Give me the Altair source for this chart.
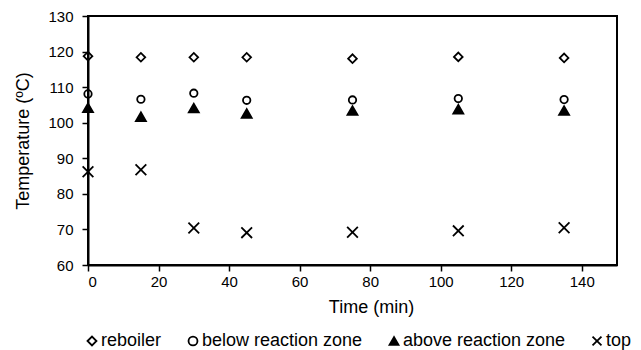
import altair as alt
import pandas as pd

times = [0, 15, 30, 45, 75, 105, 135]
reboiler = [118.7, 118.4, 118.4, 118.4, 118.0, 118.5, 118.2]
below_zone = [108.1, 106.6, 108.3, 106.3, 106.4, 106.8, 106.5]
above_zone = [104.2, 101.7, 104.1, 102.6, 103.4, 103.8, 103.4]
top = [86.2, 86.8, 70.4, 69.1, 69.2, 69.6, 70.5]

series_names = ["reboiler", "below reaction zone", "above reaction zone", "top"]
series_values = [reboiler, below_zone, above_zone, top]
marker_sizes = [75, 55, 100, 115]

x_ticks = [0, 20, 40, 60, 80, 100, 120, 140]
y_ticks = [60, 70, 80, 90, 100, 110, 120, 130]

rows = []
for name, vals in zip(series_names, series_values):
    for t, v in zip(times, vals):
        rows.append({"time": t, "temp": v, "series": name})
df = pd.DataFrame(rows)

x_path = "M-1,-1L1,1M1,-1L-1,1"

legend = alt.Legend(
    title=None,
    orient="none",
    legendX=-5,
    legendY=316,
    direction="horizontal",
    labelFont="Liberation Sans",
    labelFontSize=18,
    labelColor="black",
    labelOffset=0,
    labelLimit=0,
    columnPadding=22,
    padding=0,
    symbolSize=80,
    symbolStrokeColor="black",
    symbolStrokeWidth=1.8,
)

base = alt.Chart(df).mark_point(strokeWidth=1.8, opacity=1).encode(
    x=alt.X(
        "time:Q",
        scale=alt.Scale(domain=[0, 150], nice=False, zero=False),
        axis=alt.Axis(
            values=x_ticks,
            title="Time (min)",
            titleX=283,
            titleY=42,
            titleBaseline="middle",
        ),
    ),
    y=alt.Y(
        "temp:Q",
        scale=alt.Scale(domain=[60, 130], nice=False, zero=False),
        axis=alt.Axis(
            values=y_ticks,
            title="Temperature (ºC)",
            titleX=-65,
            titleY=124.5,
            titleBaseline="middle",
        ),
    ),
    shape=alt.Shape(
        "series:N",
        scale=alt.Scale(
            domain=series_names,
            range=["diamond", "circle", "triangle-up", x_path],
        ),
        legend=legend,
    ),
    fill=alt.Fill(
        "series:N",
        scale=alt.Scale(
            domain=series_names,
            range=["transparent", "transparent", "black", "transparent"],
        ),
        legend=legend,
    ),
    stroke=alt.Stroke(
        "series:N",
        scale=alt.Scale(
            domain=series_names,
            range=["black", "black", "black", "black"],
        ),
        legend=legend,
    ),
)

layers = [
    base.transform_filter(alt.datum.series == name).encode(size=alt.value(s))
    for name, s in zip(series_names, marker_sizes)
]

chart = (
    alt.layer(*layers)
    .properties(
        width=529,
        height=249,
        autosize=alt.AutoSizeParams(type="none"),
        padding={"left": 80, "top": 8, "right": 16, "bottom": 85},
    )
    .configure_view(stroke="black", strokeWidth=2)
    .configure_axis(
        domainColor="black",
        domainWidth=2,
        tickColor="black",
        tickWidth=1.5,
        tickSize=6,
        grid=False,
        labelFont="Liberation Sans",
        labelFontSize=15,
        labelColor="black",
        titleFont="Liberation Sans",
        titleFontSize=18,
        titleFontWeight="normal",
        titleColor="black",
    )
    .configure_axisY(labelPadding=9)
    .configure_axisX(labelPadding=3)
)

chart.save("out.html", embed_options={"renderer": "svg", "actions": False})
